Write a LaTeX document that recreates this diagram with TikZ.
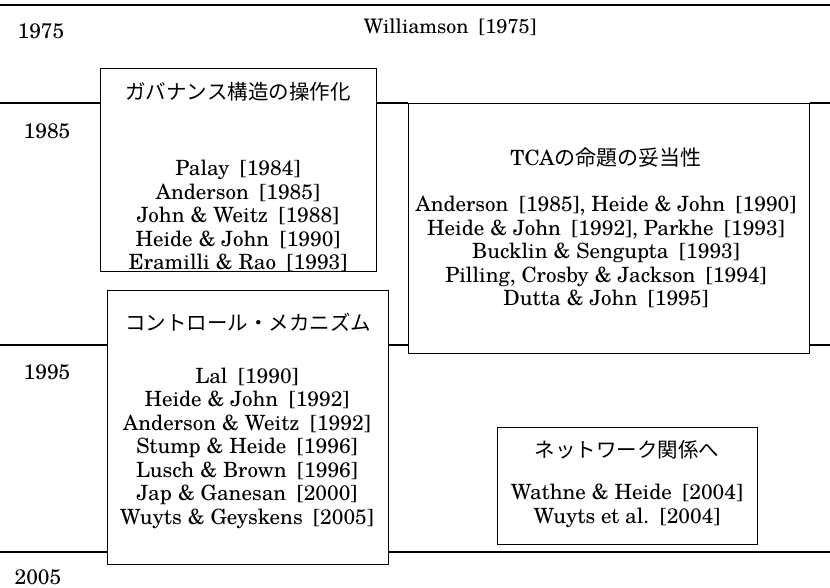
\documentclass[tikz,border=0pt]{standalone}
\usepackage{fontspec}
\setmainfont{TeX Gyre Schola}
\newfontfamily\cjk{Noto Sans CJK JP}
\newcommand{\yrr}[1]{\hspace{0.5em}[#1]}
\tikzset{
  tl/.style={line width=1.8pt},
  box/.style={draw, line width=1.1pt, inner sep=0pt, anchor=north west},
  txt/.style={align=center, font=\fontsize{21}{23.5}\selectfont, inner sep=0pt},
  jt/.style={font=\fontsize{20.5}{23.5}\selectfont\cjk, inner sep=0pt},
  yeartxt/.style={font=\fontsize{21}{24}\selectfont, inner sep=0pt}
}
\begin{document}
\begin{tikzpicture}[x=1pt,y=-1pt]
\useasboundingbox (0,0) rectangle (830,587);
% boxes
\node[box, minimum width=276pt, minimum height=203pt] (b1) at (100,68) {};
\node[box, minimum width=401pt, minimum height=250pt] (b2) at (408,103) {};
\node[box, minimum width=281pt, minimum height=274pt] (b3) at (107,290) {};
\node[box, minimum width=260pt, minimum height=117pt] (b4) at (497,427) {};
% timeline coordinates
\coordinate (t0) at (0,5);   \coordinate (t1) at (830,5);
\coordinate (a0) at (0,103); \coordinate (a1) at (830,103);
\coordinate (c0) at (0,345); \coordinate (c1) at (830,345);
\coordinate (d0) at (0,552); \coordinate (d1) at (830,552);
\draw[tl] (t0) -- (t1);
\draw[tl] (a0) -- (b1.west |- a0);
\draw[tl] (b1.east |- a0) -- (b2.north west);
\draw[tl] (b2.north east) -- (a1);
\draw[tl] (c0) -- (b3.west |- c0);
\draw[tl] (b3.east |- c0) -- (b2.west |- c0);
\draw[tl] (b2.east |- c0) -- (c1);
\draw[tl] (d0) -- (b3.west |- d0);
\draw[tl] (b3.east |- d0) -- (d1);
% years
\node[yeartxt] (y75) at (41,31) {1975};
\node[yeartxt] (y85) at (47,131) {1985};
\node[yeartxt] (y95) at (47,372) {1995};
\node[yeartxt] (y05) at (38,577) {2005};
% Williamson
\node[txt, font=\fontsize{20}{23.5}\selectfont] (will) at (450,27) {Williamson\yrr{1975}};
% box 1
\node[jt] (h1) at (238,92) {ガバナンス構造の操作化};
\node[txt] (p1) at (238,216) {Palay\yrr{1984}\\Anderson\yrr{1985}\\John \& Weitz\yrr{1988}\\Heide \& John\yrr{1990}\\Eramilli \& Rao\yrr{1993}};
% box 2
\node[txt] (h2) at (606,158) {TCA{\cjk の命題の妥当性}};
\node[txt] (p2) at (606,252) {Anderson\yrr{1985}, Heide \& John\yrr{1990}\\Heide \& John\yrr{1992}, Parkhe\yrr{1993}\\Bucklin \& Sengupta\yrr{1993}\\Pilling, Crosby \& Jackson\yrr{1994}\\Dutta \& John\yrr{1995}};
% box 3
\node[jt] (h3) at (248,322) {コントロール・メカニズム};
\node[txt] (p3) at (247,448) {Lal\yrr{1990}\\Heide \& John\yrr{1992}\\Anderson \& Weitz\yrr{1992}\\Stump \& Heide\yrr{1996}\\Lusch \& Brown\yrr{1996}\\Jap \& Ganesan\yrr{2000}\\Wuyts \& Geyskens\yrr{2005}};
% box 4
\node[jt] (h4) at (627,450) {ネットワーク関係へ};
\node[txt] (p4) at (627,506) {Wathne \& Heide\yrr{2004}\\Wuyts et al.\yrr{2004}};
\end{tikzpicture}
\end{document}
